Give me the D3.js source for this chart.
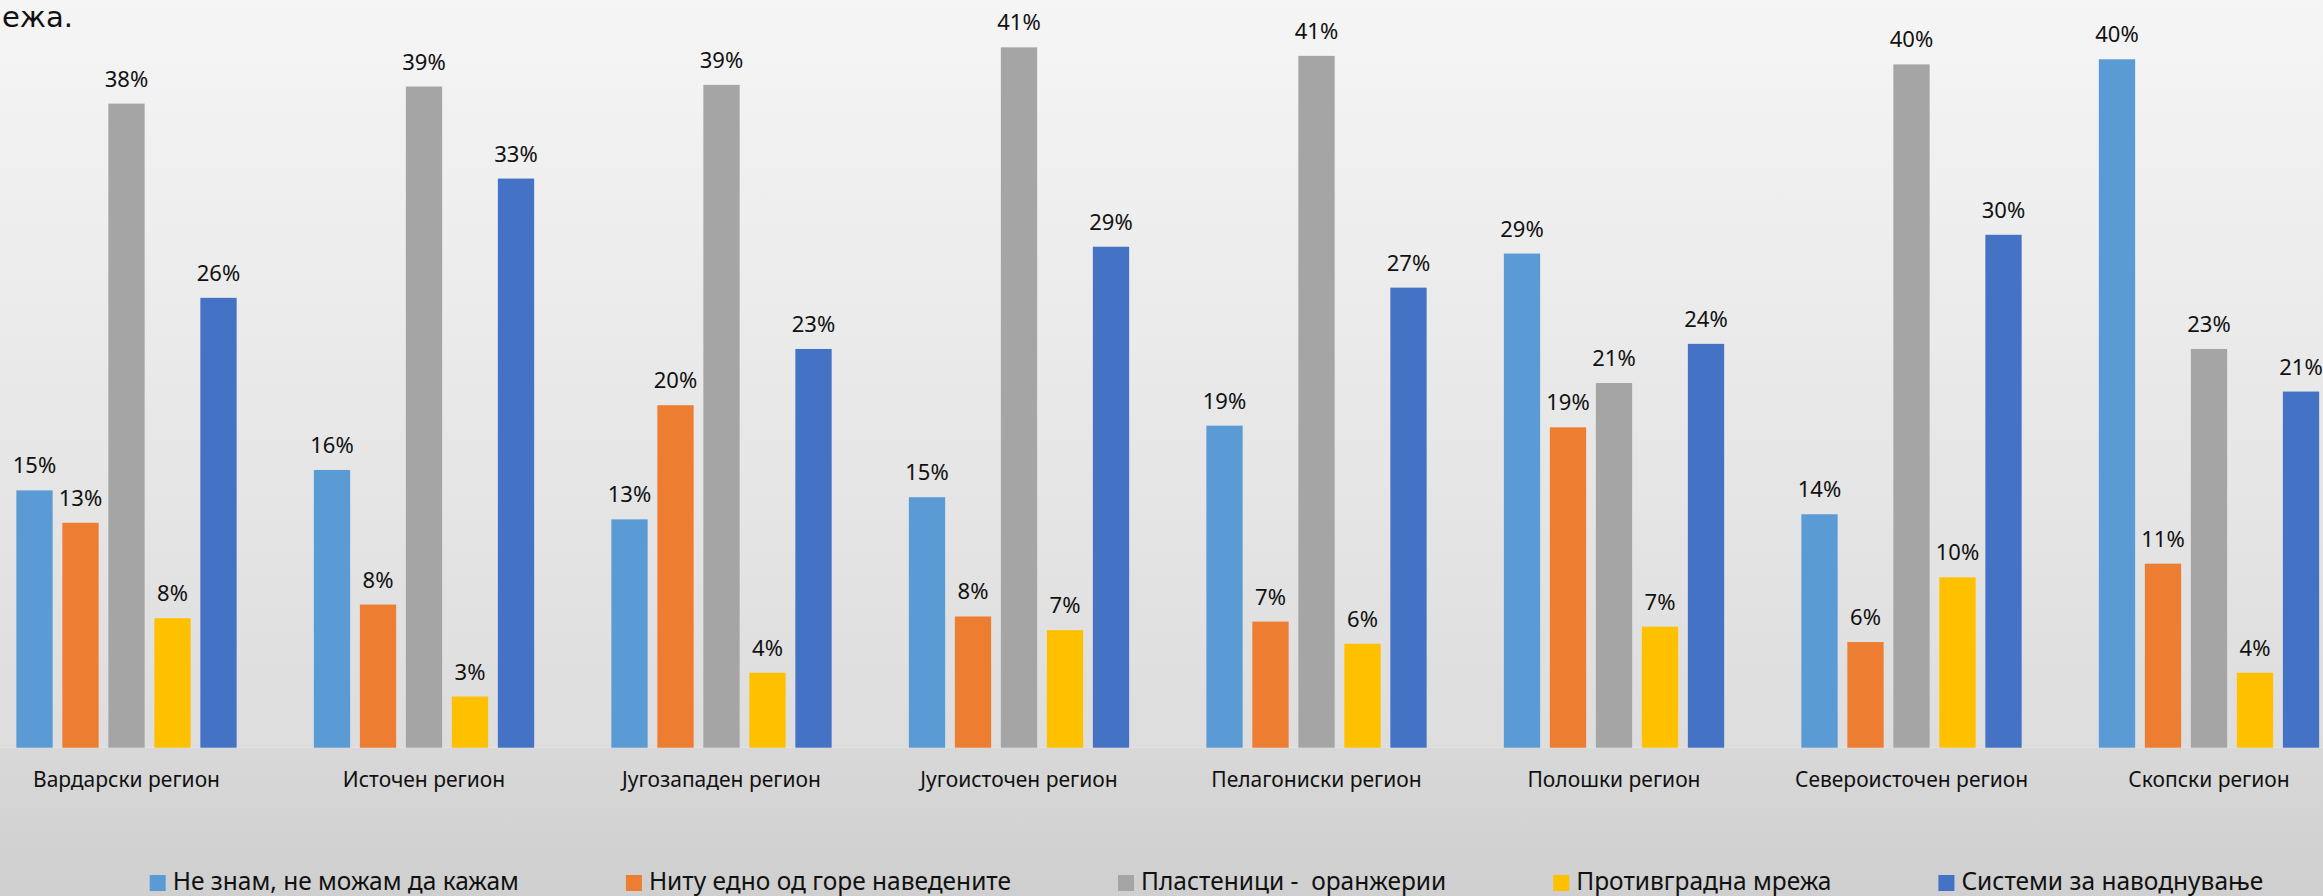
<!DOCTYPE html>
<html>
<head>
<meta charset="utf-8">
<script src="https://cdn.jsdelivr.net/npm/d3@7"></script>
<style>
  html, body { margin: 0; padding: 0; overflow: hidden; }
  svg { display: block; }
</style>
</head>
<body>
<svg></svg>
<script>
const regions = ['Вардарски регион', 'Источен регион', 'Југозападен регион', 'Југоисточен регион',
    'Пелагониски регион', 'Полошки регион', 'Североисточен регион', 'Скопски регион'];
const series = ['Не знам, не можам да кажам', 'Ниту едно од горе наведените', 'Пластеници -  оранжерии',
    'Противградна мрежа', 'Системи за наводнување'];
const colors = ['#5b9bd5', '#ed7d31', '#a5a5a5', '#ffc000', '#4472c4'];

// values per series, in region order (%)
const neZnam = [15.1, 16.3, 13.4, 14.7, 18.9, 29.0, 13.7, 40.4];
const nituEdno = [13.2, 8.4, 20.1, 7.7, 7.4, 18.8, 6.2, 10.8];
const plastenici = [37.8, 38.8, 38.9, 41.1, 40.6, 21.4, 40.1, 23.4];
const protivgradna = [7.6, 3.0, 4.4, 6.9, 6.1, 7.1, 10.0, 4.4];
const sistemi = [26.4, 33.4, 23.4, 29.4, 27.0, 23.7, 30.1, 20.9];
const values = [neZnam, nituEdno, plastenici, protivgradna, sistemi];

const svgWidth = 2323;
const svgHeight = 896;
const baseY = 747.7;

const svg = d3.select('svg')
    .attr('width', svgWidth)
    .attr('height', svgHeight);

const defs = svg.append('defs');
function grad(id, c1, c2) {
    const g = defs.append('linearGradient').attr('id', id)
        .attr('x1', 0).attr('y1', 0).attr('x2', 0).attr('y2', 1);
    g.append('stop').attr('offset', '0%').attr('stop-color', c1);
    g.append('stop').attr('offset', '100%').attr('stop-color', c2);
}
grad('bgPlot', '#f5f5f5', '#dddddd');
grad('bgBottom', '#d8d8d8', '#cfcfcf');

svg.append('rect').attr('x', 0).attr('y', 0).attr('width', svgWidth).attr('height', baseY)
    .attr('fill', 'url(#bgPlot)');
svg.append('rect').attr('x', 0).attr('y', baseY).attr('width', svgWidth).attr('height', svgHeight - baseY)
    .attr('fill', 'url(#bgBottom)');

// tail of the title, cut off by the crop
svg.append('text')
    .attr('x', 2)
    .attr('y', 27)
    .attr('font-family', 'DejaVu Sans')
    .attr('font-size', '29px')
    .attr('fill', '#111')
    .text('ежа.');

const x0 = d3.scaleBand()
    .domain(regions)
    .range([-22.25, -22.25 + 8 * 297.5]);

const x1 = d3.scaleBand()
    .domain(series)
    .range([38.6, 258.9])
    .paddingInner(0.211);

const y = d3.scaleLinear()
    .domain([0, 40])
    .range([baseY, baseY - 40 * 17.04]);

const rows = regions.map((r, i) => ({
    region: r,
    items: series.map((s, j) => ({ series: s, value: values[j][i], color: colors[j] }))
}));

const group = svg.selectAll('.grp')
    .data(rows)
    .enter().append('g')
    .attr('class', 'grp')
    .attr('transform', d => `translate(${x0(d.region)},0)`);

group.selectAll('rect')
    .data(d => d.items)
    .enter().append('rect')
    .attr('x', d => x1(d.series))
    .attr('y', d => y(d.value))
    .attr('width', x1.bandwidth())
    .attr('height', d => baseY - y(d.value))
    .attr('fill', d => d.color);

group.selectAll('.lbl')
    .data(d => d.items)
    .enter().append('text')
    .attr('class', 'lbl')
    .attr('x', d => x1(d.series) + x1.bandwidth() / 2)
    .attr('y', d => y(d.value) - 17)
    .attr('text-anchor', 'middle')
    .attr('font-family', 'Noto Sans')
    .attr('font-size', '22px')
    .attr('fill', '#111')
    .text(d => `${Math.round(d.value)}%`);

svg.selectAll('.cat')
    .data(regions)
    .enter().append('text')
    .attr('class', 'cat')
    .attr('x', d => x0(d) + x0.bandwidth() / 2)
    .attr('y', 787)
    .attr('text-anchor', 'middle')
    .attr('font-family', 'Noto Sans')
    .attr('font-size', '21px')
    .attr('fill', '#111')
    .text(d => d);

// legend, laid out in a row and centred
const legend = svg.append('g');
const items = legend.selectAll('.leg')
    .data(series)
    .enter().append('g')
    .attr('class', 'leg');

items.append('rect')
    .attr('y', 875)
    .attr('width', 16)
    .attr('height', 16)
    .attr('fill', (d, i) => colors[i]);

items.append('text')
    .attr('x', 23)
    .attr('y', 890)
    .attr('font-family', 'Noto Sans')
    .attr('font-size', '24.5px')
    .attr('fill', '#111')
    .style('white-space', 'pre')
    .text(d => d);

let pos = 0;
const offsets = [];
items.each(function () {
    const w = d3.select(this).select('text').node().getComputedTextLength();
    offsets.push(pos);
    pos += 23 + w + 107;
});
const total = pos - 107;
const start = 1206.5 - total / 2;
items.attr('transform', (d, i) => `translate(${start + offsets[i]},0)`);
</script>
</body>
</html>
